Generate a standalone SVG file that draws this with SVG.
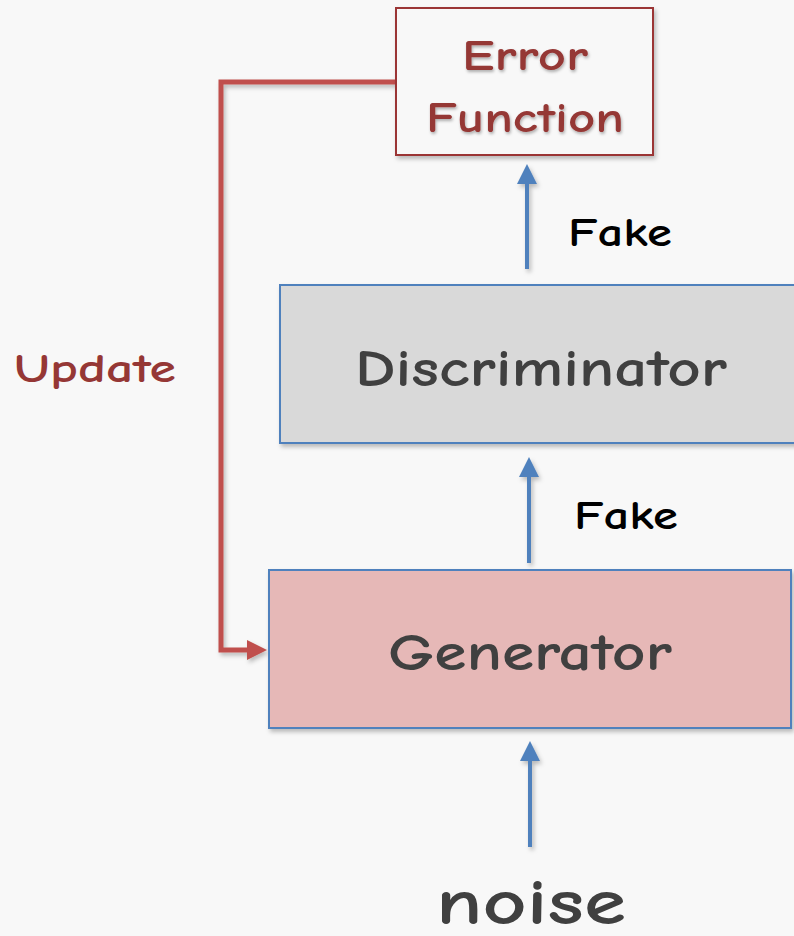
<svg xmlns="http://www.w3.org/2000/svg" width="794" height="936" viewBox="0 0 794 936">
  <defs>
    <filter id="shadow" x="-10%" y="-10%" width="130%" height="130%">
      <feDropShadow dx="2" dy="3" stdDeviation="2" flood-color="#000" flood-opacity="0.25"/>
    </filter>
    <filter id="textShadow" x="-5%" y="-10%" width="115%" height="130%">
      <feDropShadow dx="1" dy="2" stdDeviation="1.5" flood-color="#000" flood-opacity="0.3"/>
    </filter>
    <marker id="arrowBlue" markerWidth="5" markerHeight="5" refX="1" refY="2.5" orient="auto" markerUnits="strokeWidth">
      <path d="M0,0 L5,2.5 L0,5 Z" fill="#4f81bd"/>
    </marker>
    <marker id="arrowRed" markerWidth="4" markerHeight="4" refX="1" refY="2" orient="auto" markerUnits="strokeWidth">
      <path d="M0,0 L4,2 L0,4 Z" fill="#c0504d"/>
    </marker>
    <style>
      .lbl { font-family: "Comic Sans MS", "Comic Neue", "DejaVu Sans", sans-serif; text-anchor: middle; font-weight: bold; }
      .box-text { fill: #404040; }
      .blue { stroke: #4f81bd; stroke-width: 4; fill: none; }
    </style>
  </defs>

  <rect width="794" height="936" fill="#f8f8f8"/>

  <!-- Connectors -->
  <g id="connectors" filter="url(#shadow)">
    <polyline points="396,82 221,82 221,650 252,650" fill="none" stroke="#c0504d" stroke-width="5" marker-end="url(#arrowRed)"/>
    <line class="blue" x1="527" y1="269" x2="527" y2="180" marker-end="url(#arrowBlue)"/>
    <line class="blue" x1="529" y1="563" x2="529" y2="473" marker-end="url(#arrowBlue)"/>
    <line class="blue" x1="530" y1="847" x2="530" y2="757" marker-end="url(#arrowBlue)"/>
  </g>

  <!-- Error Function -->
  <g id="error-function">
    <rect x="396" y="8" width="257" height="147" fill="#f8f8f8" stroke="#9b3535" stroke-width="2" filter="url(#shadow)"/>
    <g filter="url(#textShadow)">
      <text class="lbl" x="525" y="70" font-size="42" fill="#953735" textLength="126" lengthAdjust="spacingAndGlyphs">Error</text>
      <text class="lbl" x="525" y="132" font-size="42" fill="#953735" textLength="198" lengthAdjust="spacingAndGlyphs">Function</text>
    </g>
  </g>

  <!-- Discriminator -->
  <g id="discriminator">
    <rect x="280" y="285" width="520" height="158" fill="#d9d9d9" stroke="#4f81bd" stroke-width="2" filter="url(#shadow)"/>
    <text class="lbl box-text" x="541" y="386" font-size="52" textLength="372" lengthAdjust="spacingAndGlyphs">Discriminator</text>
  </g>

  <!-- Generator -->
  <g id="generator">
    <rect x="269" y="570" width="522" height="158" fill="#e6b8b7" stroke="#4f81bd" stroke-width="2" filter="url(#shadow)"/>
    <text class="lbl box-text" x="530" y="670" font-size="52" textLength="284" lengthAdjust="spacingAndGlyphs">Generator</text>
  </g>

  <!-- Labels -->
  <g id="labels">
    <text class="lbl" x="620" y="246" font-size="40" fill="#000" textLength="104" lengthAdjust="spacingAndGlyphs">Fake</text>
    <text class="lbl" x="626" y="529" font-size="40" fill="#000" textLength="104" lengthAdjust="spacingAndGlyphs">Fake</text>
    <text class="lbl" x="95" y="382" font-size="40" fill="#953735" textLength="162" lengthAdjust="spacingAndGlyphs">Update</text>
    <text class="lbl box-text" x="531" y="924" font-size="64" textLength="190" lengthAdjust="spacingAndGlyphs">noise</text>
  </g>
</svg>
